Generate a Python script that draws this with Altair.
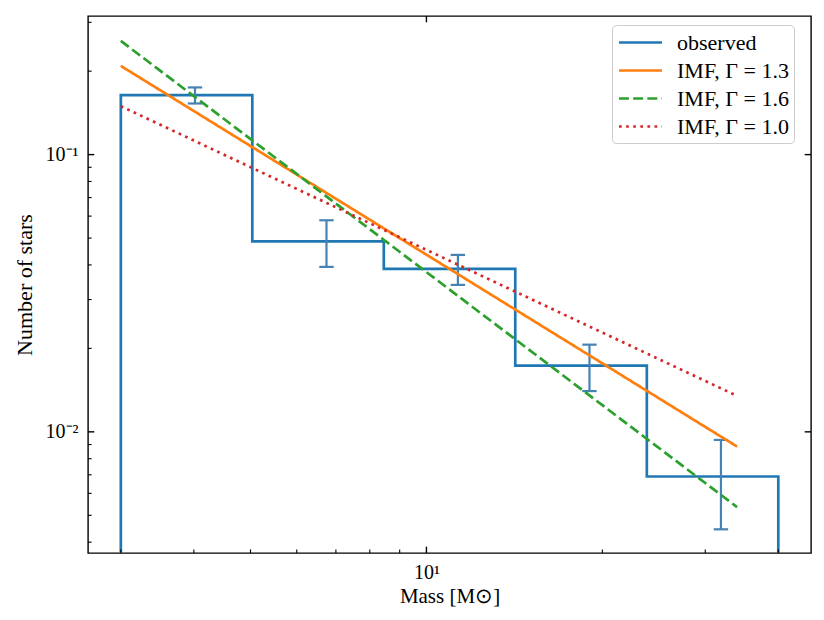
import altair as alt
import pandas as pd

# ---- data ----
bin_edges = [3.0, 5.036, 8.454, 14.19, 23.83, 40.0]
hist_values = [0.1638, 0.04866, 0.03868, 0.01733, 0.006901]
hist_floor = 1e-3  # stands in for matplotlib's zero baseline on a log axis

bin_centers = [4.018, 6.745, 11.32, 19.01, 31.91]
err_values = [0.0109, 0.0093, 0.0048, 0.0033, 0.00245]

series_order = ["observed", "IMF, Γ = 1.3", "IMF, Γ = 1.6", "IMF, Γ = 1.0"]
series_colors = ["#1f77b4", "#ff7f0e", "#2ca02c", "#d62728"]
series_dashes = [[1, 0], [1, 0], [9.9, 4.3], [2.7, 4.4]]

imf_mass = [3.0, 34.0]
imf_g13 = [0.2089, 0.00885]
imf_g16 = [0.2571, 0.005354]
imf_g10 = [0.1495, 0.01348]

x_major = [10]
x_minor = [3, 4, 5, 6, 7, 8, 9, 20, 30, 40]
y_major = [0.01, 0.1]
y_minor = [0.004, 0.005, 0.006, 0.007, 0.008, 0.009,
           0.02, 0.03, 0.04, 0.05, 0.06, 0.07, 0.08, 0.09, 0.2, 0.3]

x_domain = [2.636, 45.5]
y_domain = [0.003656, 0.3162]

# ---- tables ----
hx = [bin_edges[0]] + bin_edges + [bin_edges[-1]]
hy = [hist_floor] + hist_values + [hist_values[-1], hist_floor]
hist_df = pd.DataFrame({"mass": hx, "value": hy, "idx": list(range(len(hx))),
                        "series": "observed"})

err_df = pd.DataFrame({
    "mass": bin_centers,
    "lo": [v - e for v, e in zip(hist_values, err_values)],
    "hi": [v + e for v, e in zip(hist_values, err_values)],
})

imf_rows = []
for lab, vals in zip(series_order[1:], [imf_g13, imf_g16, imf_g10]):
    for m, v in zip(imf_mass, vals):
        imf_rows.append({"series": lab, "mass": m, "value": v})
imf_df = pd.DataFrame(imf_rows)

W, H = 723, 537
FONT = "Liberation Serif"

xs = alt.Scale(type="log", domain=x_domain, nice=False, zero=False)
ys = alt.Scale(type="log", domain=y_domain, nice=False, zero=False)

x_axis = alt.Axis(title="Mass [M⊙]", values=x_major, labelExpr="'10¹'",
                  ticks=False, tickSize=0, domain=False, grid=False,
                  labelFont=FONT, labelFontSize=20, labelPadding=9,
                  labelColor="black", titleFont=FONT, titleFontSize=21,
                  titleFontWeight="normal", titleColor="black",
                  titleY=49, titleBaseline="alphabetic")
y_axis = alt.Axis(title="Number of stars", values=y_major,
                  labelExpr="datum.value < 0.05 ? '10⁻²' : '10⁻¹'",
                  ticks=False, tickSize=0, domain=False, grid=False,
                  labelFont=FONT, labelFontSize=20, labelPadding=10,
                  labelColor="black", titleFont=FONT, titleFontSize=22,
                  titleFontWeight="normal", titleColor="black",
                  titleX=-57, titleBaseline="alphabetic", titleAngle=270)

X = lambda f="mass": alt.X(f"{f}:Q", scale=xs, axis=x_axis)
Y = lambda f="value": alt.Y(f"{f}:Q", scale=ys, axis=y_axis)

legend = alt.Legend(title=None, orient="none", legendX=524, legendY=9,
                    symbolType="M-2,0H2", symbolSize=462, symbolStrokeWidth=2.7,
                    symbolOffset=11,
                    labelFont=FONT, labelFontSize=22, labelColor="black",
                    labelOffset=24, labelLimit=0, rowPadding=4, padding=5,
                    fillColor="white", strokeColor="#cccccc", cornerRadius=4)

color = alt.Color("series:N", scale=alt.Scale(domain=series_order, range=series_colors),
                  legend=legend, sort=series_order)
dash = alt.StrokeDash("series:N", scale=alt.Scale(domain=series_order, range=series_dashes),
                      legend=legend, sort=series_order)

hist = alt.Chart(hist_df).mark_line(interpolate="step-after", strokeWidth=2.7, clip=True).encode(
    x=X(), y=Y(), color=color, strokeDash=dash, order="idx:Q")

ERR_COLOR = "#4682b4"
err_v = alt.Chart(err_df).mark_rule(color=ERR_COLOR, strokeWidth=2.2, clip=True).encode(
    x=X(), y=Y("lo"), y2="hi:Q")
cap_lo = alt.Chart(err_df).mark_rule(color=ERR_COLOR, strokeWidth=2.2, xOffset=-7.2, x2Offset=7.2).encode(
    x=X(), x2="mass:Q", y=Y("lo"))
cap_hi = alt.Chart(err_df).mark_rule(color=ERR_COLOR, strokeWidth=2.2, xOffset=-7.2, x2Offset=7.2).encode(
    x=X(), x2="mass:Q", y=Y("hi"))

imf = alt.Chart(imf_df).mark_line(strokeWidth=2.7, clip=True).encode(
    x=X(), y=Y(), color=color, strokeDash=dash, detail="series:N")

# inward ticks
xmaj_df = pd.DataFrame({"mass": x_major})
xmin_df = pd.DataFrame({"mass": x_minor})
ymaj_df = pd.DataFrame({"value": y_major})
ymin_df = pd.DataFrame({"value": y_minor})
MAJ, MIN = 6.3, 3.6
tick_style = dict(color="black")
t_xb = alt.Chart(xmaj_df).mark_rule(strokeWidth=1.4, **tick_style).encode(
    x=X(), y=alt.value(H), y2=alt.value(H - MAJ))
t_xt = alt.Chart(xmaj_df).mark_rule(strokeWidth=1.4, **tick_style).encode(
    x=X(), y=alt.value(0), y2=alt.value(MAJ))
t_xm = alt.Chart(xmin_df).mark_rule(strokeWidth=1.1, **tick_style).encode(
    x=X(), y=alt.value(H), y2=alt.value(H - MIN))
t_yl = alt.Chart(ymaj_df).mark_rule(strokeWidth=1.4, **tick_style).encode(
    y=Y(), x=alt.value(0), x2=alt.value(MAJ))
t_yr = alt.Chart(ymaj_df).mark_rule(strokeWidth=1.4, **tick_style).encode(
    y=Y(), x=alt.value(W), x2=alt.value(W - MAJ))
t_ym = alt.Chart(ymin_df).mark_rule(strokeWidth=1.1, **tick_style).encode(
    y=Y(), x=alt.value(0), x2=alt.value(MIN))

chart = alt.layer(hist, err_v, cap_lo, cap_hi, imf,
                  t_xb, t_xt, t_xm, t_yl, t_yr, t_ym).properties(
    width=W, height=H,
    padding={"left": 80, "top": 8, "right": 5, "bottom": 62},
    autosize=alt.AutoSizeParams(type="none"),
    background="white",
).configure_view(stroke="black", strokeWidth=1.4)

chart.save("out.html", embed_options={"renderer": "svg", "actions": False})
